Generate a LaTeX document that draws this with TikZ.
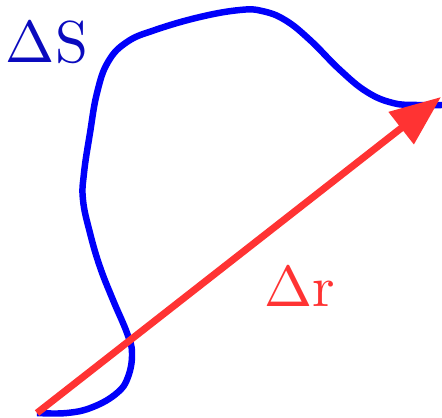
\documentclass[tikz,border=0pt]{standalone}
\usepackage{amsmath}
\usepackage{xcolor}
\usepackage{tikz}
\usetikzlibrary{arrows.meta}

\definecolor{pathblue}{RGB}{0,0,250}
\definecolor{labelblue}{RGB}{10,10,190}
\definecolor{vecred}{RGB}{255,51,51}

\begin{document}
\begin{tikzpicture}[x=0.025cm, y=-0.025cm]
                    \useasboundingbox (0,0) rectangle (442,418);

                    \coordinate (start) at (37,413);
                    \coordinate (tip) at (441,97);

                    \draw[pathblue, line width=4.6pt, line cap=butt]
                        plot[smooth, tension=0.7] coordinates {
                            (start) (67,413) (93,407) (117,393) (128,377) (132,353)
                            (127,333) (113,300) (100,267) (90,233) (83,200)
                            (84,173) (90,133) (97,93) (108,62) (127,42)
                            (155,30) (200,17) (240,10) (262,11) (285,20) (310,40)
                            (340,70) (367,92) (393,103) (417,105) (442,105)};

                    \draw[vecred, line width=5pt,
                          -{Triangle[length=36pt, width=28pt]}] (start) -- (tip);

                    \node[labelblue, scale=4.2] (dS) at (47,42) {$\Delta\mathrm{S}$};
                    \node[vecred, scale=4.1] (dr) at (300,287) {$\Delta\mathrm{r}$};
                \end{tikzpicture}
\end{document}
